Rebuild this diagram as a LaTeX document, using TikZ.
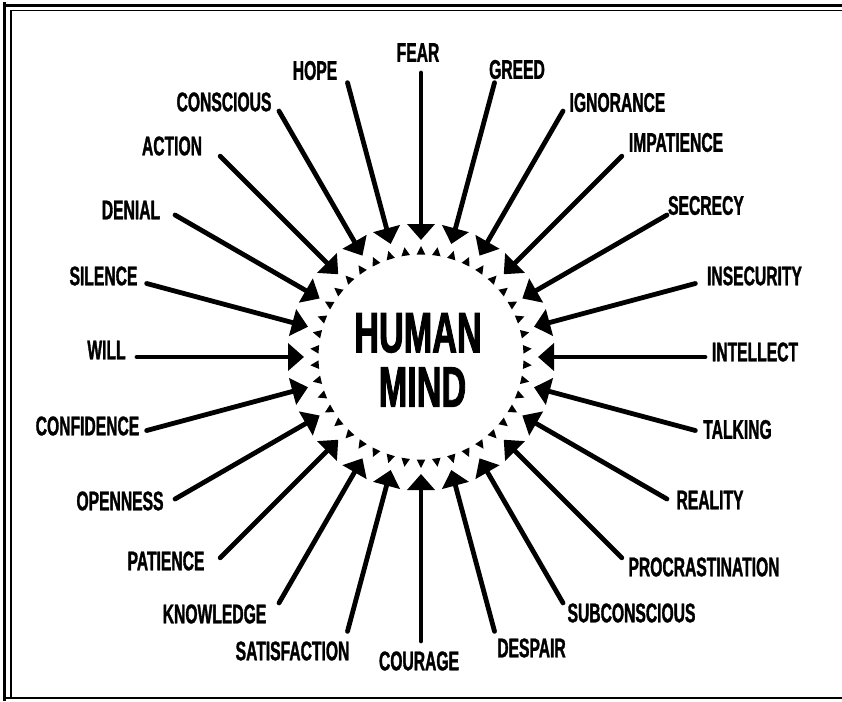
\documentclass[tikz,border=0pt]{standalone}
\usepackage{fontspec}
\usetikzlibrary{arrows.meta}
\newfontfamily\lblfont[FakeStretch=0.58,FakeBold=1.2]{Liberation Sans}
\newfontfamily\bigfont[FakeStretch=0.6,FakeBold=1.5]{Liberation Sans}
\tikzset{
  lbl/.style={inner sep=0pt, font=\lblfont\bfseries\fontsize{27}{30}\selectfont},
  big/.style={inner sep=0pt, font=\bigfont\bfseries\fontsize{57}{60}\selectfont},
  ray/.style={line width=4.8pt, line cap=round, -{Triangle[length=16pt,width=27pt]}},
  frameouter/.style={line width=3.5pt},
  frameinner/.style={line width=1.2pt},
}
\begin{document}
\begin{tikzpicture}[x=1pt,y=-1pt]
\useasboundingbox (0,0) rectangle (842,701);
% frame
\draw[frameouter] (4.5,2.5) -- (4.5,701);
\draw[line width=2.5pt] (2.5,5.5) -- (842,5.5);
\draw[frameinner] (11,10.5) -- (842,10.5);
\draw[frameinner] (11,10.5) -- (11,698);
\draw[line width=1.5pt] (4,698) -- (842,698);
% centre
\coordinate (c) at (421,357);
\node[big] (hm1) at (418,333) {HUMAN};
\node[big] (hm2) at (422.5,387) {MIND};
\begin{scope}[shift={(c)}]
  \foreach \i in {0,...,41}{
    \fill[rotate={90+\i*360/42}] (111,0) -- (102.5,4.3) -- (102.5,-4.3) -- cycle;
  }
  \foreach \a/\n in {
    90/fear, 75/greed, 60/ignorance, 45/impatience, 30/secrecy,
    15/insecurity, 0/intellect, -15/talking, -30/reality, -45/procr,
    -60/subcon, -75/despair, -90/courage, -105/satis, -120/knowledge,
    -135/patience, -150/openness, -165/confidence, 180/will, 165/silence,
    150/denial, 135/action, 120/conscious, 105/hope}{
    \coordinate (s-\n) at (-\a:284);
    \coordinate (t-\n) at (-\a:117);
    \draw[ray] (s-\n) -- (t-\n);
  }
\end{scope}
\foreach \n/\t/\x/\y in {
    fear/FEAR/418/52.5,
    greed/GREED/517/69.5,
    ignorance/IGNORANCE/617.5/102.5,
    impatience/IMPATIENCE/676/142.5,
    secrecy/SECRECY/706/205.5,
    insecurity/INSECURITY/754.5/276,
    intellect/INTELLECT/755/352,
    talking/TALKING/737.5/429.5,
    reality/REALITY/710/500,
    procr/PROCRASTINATION/704/567,
    subcon/SUBCONSCIOUS/631.5/613,
    despair/DESPAIR/531.5/648,
    courage/COURAGE/419/661,
    satis/SATISFACTION/292.5/651,
    knowledge/KNOWLEDGE/214.5/614,
    patience/PATIENCE/166/561,
    openness/OPENNESS/120/501,
    confidence/CONFIDENCE/87.5/426,
    will/WILL/106.5/350,
    silence/SILENCE/103.5/276,
    denial/DENIAL/131/210,
    action/ACTION/172/146,
    conscious/CONSCIOUS/224/102,
    hope/HOPE/315/70.5}{
  \node[lbl] (l-\n) at (\x,\y) {\t};
}
\end{tikzpicture}
\end{document}
